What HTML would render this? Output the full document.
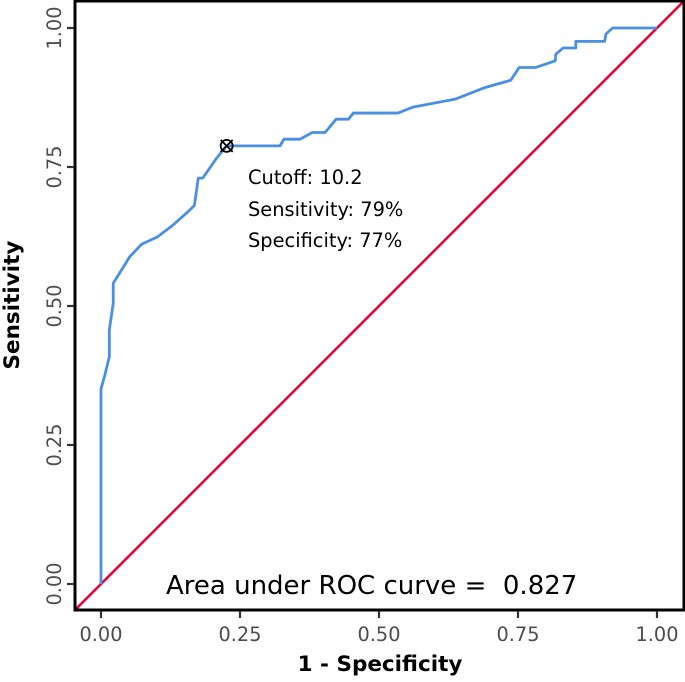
<!DOCTYPE html>
<html><head><meta charset="utf-8"><style>
body{margin:0;background:#fff;}
svg text{font-family:"DejaVu Sans","Liberation Sans",sans-serif;}
</style></head><body>
<svg width="685" height="677" viewBox="0 0 685 677">
<defs><clipPath id="pc"><rect x="75" y="1" width="609" height="609"/></clipPath></defs>
<g id="grid"></g>
<rect x="75" y="1" width="609" height="609" fill="none" stroke="#000" stroke-width="3"/>
<text x="380" y="671" text-anchor="middle" font-size="21.5" font-weight="bold">1 - Specificity</text>
<text transform="translate(19,305) rotate(-90)" text-anchor="middle" font-size="21.5" font-weight="bold">Sensitivity</text>
<text x="248" y="184" font-size="19.4">Cutoff: 10.2</text>
<text x="248" y="216" font-size="19.4">Sensitivity: 79%</text>
<text x="248" y="247" font-size="19.4">Specificity: 77%</text>
<text x="166" y="594" font-size="26" style="white-space:pre">Area under ROC curve =  0.827</text>
</svg>
<script>
const fpr=[0,0,0.007,0.015,0.015,0.022,0.022,0.052,0.073,0.101,0.130,0.157,0.168,0.175,0.183,0.208,0.226,0.322,0.329,0.358,0.380,0.403,0.423,0.445,0.454,0.534,0.562,0.637,0.691,0.737,0.752,0.782,0.817,0.818,0.831,0.854,0.854,0.906,0.908,0.920,1];
const tpr=[0,0.351,0.376,0.409,0.457,0.505,0.541,0.589,0.611,0.624,0.646,0.670,0.681,0.730,0.730,0.766,0.788,0.788,0.800,0.800,0.812,0.812,0.836,0.836,0.847,0.847,0.858,0.872,0.893,0.906,0.929,0.929,0.941,0.953,0.964,0.964,0.976,0.976,0.989,1,1];
const ticks=[0,0.25,0.5,0.75,1];
const tickLabels=["0.00","0.25","0.50","0.75","1.00"];
const cutoff=[0.226,0.788];
const NS="http://www.w3.org/2000/svg";
const sx=v=>101+v*556, sy=v=>584-v*556;
const svg=document.querySelector('svg'), g=document.getElementById('grid');
function mk(t,a,p){const e=document.createElementNS(NS,t);for(const k in a)e.setAttribute(k,a[k]);(p||svg).appendChild(e);return e;}
const dg=mk('line',{x1:sx(-0.05),y1:sy(-0.05),x2:sx(1.05),y2:sy(1.05),stroke:'#dc0b3c','stroke-width':2.6,'clip-path':'url(#pc)'},g);


const pl=mk('polyline',{points:fpr.map((x,i)=>sx(x)+','+sy(tpr[i])).join(' '),fill:'none',stroke:'#4a90e2','stroke-width':2.8,'stroke-linejoin':'round'},g);


const cx=sx(cutoff[0]),cy=sy(cutoff[1]);
const m=mk('g',{stroke:'#000','stroke-width':1.8,fill:'none'},g);


mk('circle',{cx:cx,cy:cy,r:6},m);
mk('line',{x1:cx-6,y1:cy-6,x2:cx+6,y2:cy+6},m);
mk('line',{x1:cx-6,y1:cy+6,x2:cx+6,y2:cy-6},m);
ticks.forEach((t,i)=>{
 const a=mk('line',{x1:sx(t),x2:sx(t),y1:611,y2:618,stroke:'#333','stroke-width':2.2});
 
 
 const xl=mk('text',{x:sx(t),y:641,'text-anchor':'middle','font-size':19.3,fill:'#4d4d4d'});
 xl.textContent=tickLabels[i];
 
 
 const b=mk('line',{x1:67,x2:74,y1:sy(t),y2:sy(t),stroke:'#333','stroke-width':2.2});
 
 
 const yl=mk('text',{transform:`translate(61,${sy(t)}) rotate(-90)`,'text-anchor':'middle','font-size':19.3,fill:'#4d4d4d'});
 yl.textContent=tickLabels[i];
 
 
});
</script>
</body></html>
